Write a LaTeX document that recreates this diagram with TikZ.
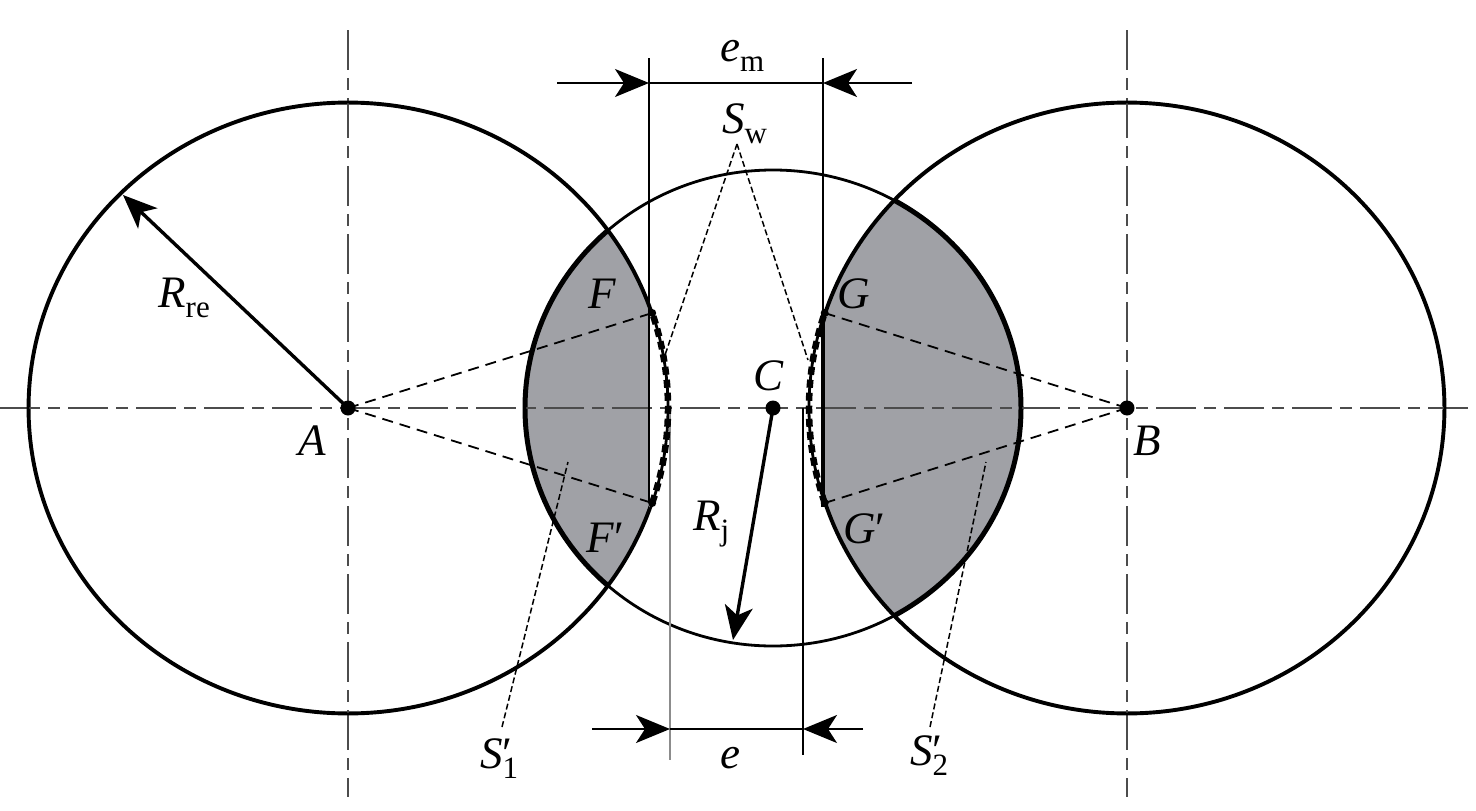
\documentclass[tikz,border=0pt]{standalone}
\usepackage{fontspec}
\setmainfont{Liberation Serif}
\usetikzlibrary{arrows.meta}
\definecolor{shadegray}{RGB}{160,161,166}
\newcommand{\mysub}[1]{\raisebox{-10pt}{\fontsize{31}{31}\selectfont #1}}
\newcommand{\myprime}{\makebox[0pt][l]{′}}
\begin{document}
\begin{tikzpicture}[x=1pt,y=-1pt,
  circ/.style={line width=2.8pt},
  axisline/.style={line width=2pt, color=black!70, dash pattern=on 40pt off 8pt on 12pt off 8pt},
  dimline/.style={line width=1.8pt},
  dimarrow/.style={line width=2pt,-{Stealth[length=34pt,width=28pt,inset=9pt]}},
  radarrow/.style={line width=3.4pt,-{Stealth[length=34pt,width=28pt,inset=9pt]}},
  conn/.style={line width=1.8pt, dash pattern=on 11pt off 7pt},
  leader/.style={line width=1.5pt, dash pattern=on 6pt off 3pt},
  dotarc/.style={line width=6.5pt, dash pattern=on 8pt off 5pt},
  lbl/.style={font=\fontsize{45}{50}\selectfont, inner sep=0pt, anchor=base west},
  pt/.style={circle, fill=black, inner sep=0pt, minimum size=15pt},
  endpt/.style={circle, fill=black, inner sep=0pt, minimum size=8pt}
]
\useasboundingbox (0,0) rectangle (1476,811);

\coordinate (A) at (348,408);
\coordinate (B) at (1127,408);
\coordinate (C) at (773,408);
\coordinate (F) at (652.2,313);
\coordinate (F2) at (652.2,503);
\coordinate (G) at (824.7,313);
\coordinate (G2) at (824.7,503);

% shaded regions
\begin{scope}
  \clip (0,0) rectangle (649,811);
  \clip (A) ellipse [x radius=320, y radius=306];
  \fill[shadegray] (C) ellipse [x radius=248, y radius=238];
  \draw[line width=5pt] (A) ellipse [x radius=320, y radius=306]
                        (C) ellipse [x radius=248, y radius=238];
\end{scope}
\begin{scope}
  \clip (823,0) rectangle (1476,811);
  \clip (B) ellipse [x radius=318, y radius=306];
  \fill[shadegray] (C) ellipse [x radius=248, y radius=238];
  \draw[line width=5pt] (B) ellipse [x radius=318, y radius=306]
                        (C) ellipse [x radius=248, y radius=238];
\end{scope}

% axes
\draw[axisline] (0,408) -- (1476,408);
\draw[axisline] (348,30) -- (348,797);
\draw[axisline] (1127,30) -- (1127,797);

% circles
\draw[circ] (A) ellipse [x radius=320, y radius=306];
\draw[circ] (B) ellipse [x radius=318, y radius=306];
\draw[circ] (C) ellipse [x radius=248, y radius=238];

% dimension lines
\coordinate (emL) at (649,58);
\coordinate (emR) at (823,58);
\draw[dimline] (emL) -- (649,503);
\draw[dimline] (emR) -- (823,507);
\draw[line width=4pt] (823,313) -- (823,507);
\draw[dimline, color=black!45] (670,408) -- (670,760);
\draw[dimline] (803,408) -- (803,755);

\draw[dimarrow] (557,83) -- (649,83);
\draw[dimline] (649,83) -- (823,83);
\draw[dimarrow] (912,83) -- (823,83);
\draw[dimarrow] (592,729) -- (670,729);
\draw[dimline] (670,729) -- (803,729);
\draw[dimarrow] (863,729) -- (803,729);

% connectors
\draw[conn] (A) -- (F);
\draw[conn] (A) -- (F2);
\draw[conn] (B) -- (G);
\draw[conn] (B) -- (G2);

% dotted arcs
\draw[dotarc] (F2) arc [start angle=18.09, end angle=-18.09, x radius=320, y radius=306];
\draw[dotarc] (G2) arc [start angle=161.91, end angle=198.09, x radius=318, y radius=306];
\node[endpt] (pF) at (F) {};
\node[endpt] (pF2) at (F2) {};
\node[endpt] (pG) at (G) {};
\node[endpt] (pG2) at (G2) {};

% leaders
\coordinate (Sw) at (737,144);
\draw[leader] (Sw) -- (665,355);
\draw[leader] (Sw) -- (808,360);
\draw[leader] (502,727) -- (568,462);
\draw[leader] (930,727) -- (986,462);

% radius arrows
\draw[radarrow] (A) -- (123,195);
\draw[radarrow] (C) -- (733,640);

% points
\node[pt] (pA) at (A) {};
\node[pt] (pB) at (B) {};
\node[pt] (pC) at (C) {};

% labels
\node[lbl] (lRre) at (158,307) {\textit{R}\mysub{re}};
\node[lbl] (lA) at (298,455) {\textit{A}};
\node[lbl] (lB) at (1133,455) {\textit{B}};
\node[lbl] (lC) at (753,390) {\textit{C}};
\node[lbl] (lF) at (588,308) {\textit{F}};
\node[lbl] (lG) at (837,308) {\textit{G}};
\node[lbl] (lF2) at (586,552) {\textit{F}′};
\node[lbl] (lG2) at (843,543) {\textit{G}′};
\node[lbl] (lRj) at (693,530) {\textit{R}\mysub{j}};
\node[lbl] (le) at (720,768) {\textit{e}};
\node[lbl] (lem) at (720,61) {\textit{e}\mysub{m}};
\node[lbl] (lSw) at (722,133) {\textit{S}\mysub{w}};
\node[lbl] (lS1) at (480,768) {\textit{S}\myprime\mysub{1}};
\node[lbl] (lS2) at (910,765) {\textit{S}\myprime\mysub{2}};
\end{tikzpicture}
\end{document}
